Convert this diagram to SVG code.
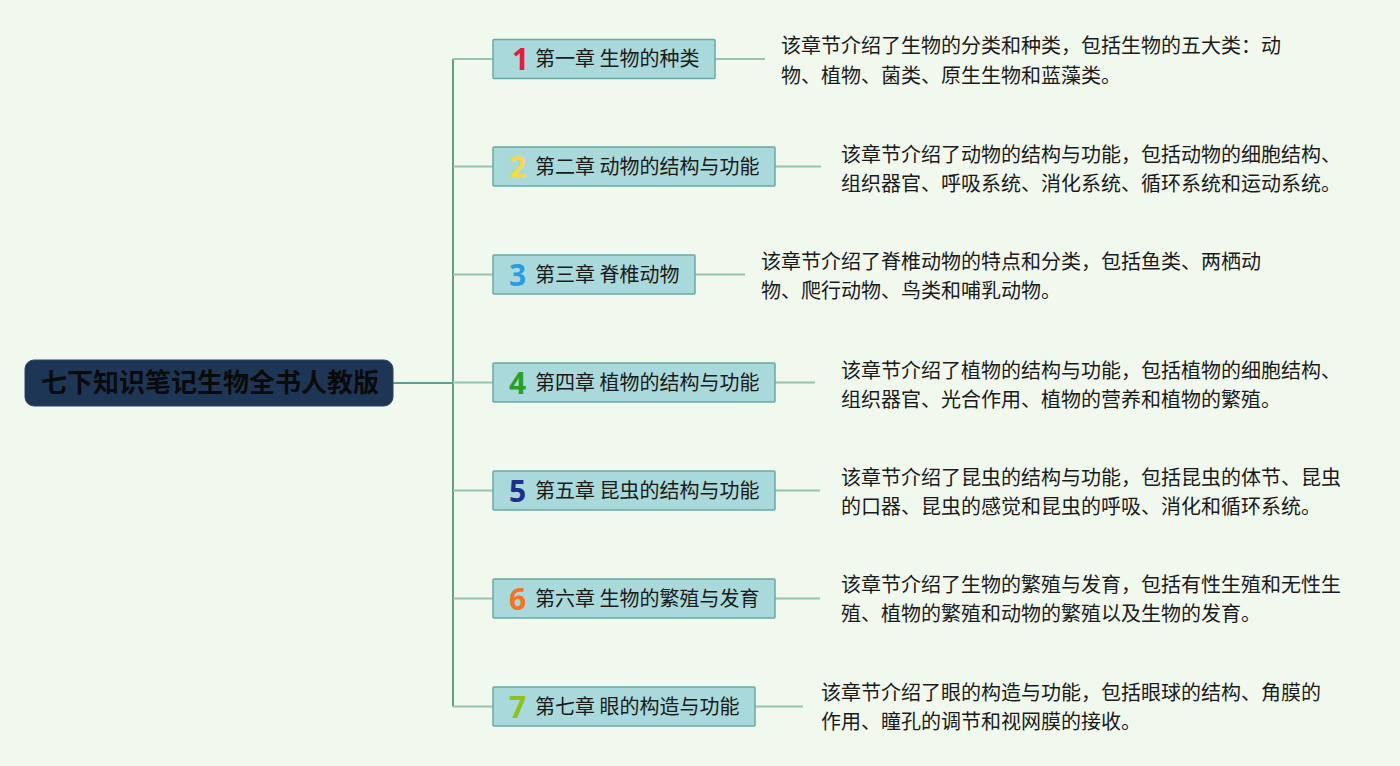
<svg xmlns="http://www.w3.org/2000/svg" width="1400" height="766" viewBox="0 0 1400 766">
<style>
.bg{fill:#f1f9ef}
.trunk{stroke:#5f9e8a;stroke-width:2;fill:none}
.br{stroke:#94c4b2;stroke-width:2;fill:none}
.node{fill:#a9d9da;stroke:#6aa9a2;stroke-width:1.5}
.lbl{font-family:"Noto Sans CJK SC","Noto Sans",sans-serif;font-size:20px;fill:#1a1a1a}
.num{font-family:"Noto Sans","Liberation Sans",sans-serif;font-size:30px;font-weight:bold}
.desc{font-family:"Noto Sans CJK SC","Noto Sans",sans-serif;font-size:20px;fill:#1a1a1a}
.root{fill:#1e3656;stroke:#2a4466;stroke-width:1}
.rootT{font-family:"Noto Sans CJK SC","Noto Sans",sans-serif;font-size:26px;font-weight:bold;fill:#0a0a0a}
</style>
<rect class="bg" x="0" y="0" width="1400" height="766"/>
<g id="connectors">
<path class="trunk" d="M393 383 H453 M453 59 V706.5"/>
<path class="br" d="M453 59 H493 M453 166.5 H493 M453 274.5 H493 M453 382.5 H493 M453 490.5 H493 M453 598.5 H493 M453 706.5 H493"/>
<path class="br" d="M715 59 H765 M775 166.5 H821 M695 274.5 H745 M775 382.5 H815 M775 490.5 H820 M775 598.5 H820 M755 706.5 H803"/>
</g>
<g id="root">
<rect class="root" x="25" y="360" width="368" height="46" rx="9"/>
<text class="rootT" x="210" y="392" text-anchor="middle">七下知识笔记生物全书人教版</text>
</g>
<g id="ch1">
<rect class="node" x="493" y="39.5" width="222" height="39" rx="1"/>
<text class="num" x="512" y="70" fill="#e0203c">1</text>
<text class="lbl" x="535" y="66">第一章 生物的种类</text>
</g>
<g id="ch2">
<rect class="node" x="493" y="147" width="282" height="39" rx="1"/>
<text class="num" x="509" y="177.5" fill="#f5d84a">2</text>
<text class="lbl" x="535" y="174">第二章 动物的结构与功能</text>
</g>
<g id="ch3">
<rect class="node" x="493" y="255" width="202" height="39" rx="1"/>
<text class="num" x="509" y="285.5" fill="#2a9de0">3</text>
<text class="lbl" x="535" y="282">第三章 脊椎动物</text>
</g>
<g id="ch4">
<rect class="node" x="493" y="363" width="282" height="39" rx="1"/>
<text class="num" x="509" y="393.5" fill="#24a12c">4</text>
<text class="lbl" x="535" y="390">第四章 植物的结构与功能</text>
</g>
<g id="ch5">
<rect class="node" x="493" y="471" width="282" height="39" rx="1"/>
<text class="num" x="509" y="501.5" fill="#1f2f8c">5</text>
<text class="lbl" x="535" y="498">第五章 昆虫的结构与功能</text>
</g>
<g id="ch6">
<rect class="node" x="493" y="579" width="282" height="39" rx="1"/>
<text class="num" x="509" y="609.5" fill="#f27322">6</text>
<text class="lbl" x="535" y="606">第六章 生物的繁殖与发育</text>
</g>
<g id="ch7">
<rect class="node" x="493" y="687" width="262" height="39" rx="1"/>
<text class="num" x="509" y="717.5" fill="#8cc21c">7</text>
<text class="lbl" x="535" y="714">第七章 眼的构造与功能</text>
</g>
<g id="desc1">
<text class="desc" x="781" y="53">该章节介绍了生物的分类和种类，包括生物的五大类：动</text>
<text class="desc" x="781" y="83">物、植物、菌类、原生生物和蓝藻类。</text>
</g>
<g id="desc2">
<text class="desc" x="841" y="162">该章节介绍了动物的结构与功能，包括动物的细胞结构、</text>
<text class="desc" x="841" y="191">组织器官、呼吸系统、消化系统、循环系统和运动系统。</text>
</g>
<g id="desc3">
<text class="desc" x="761" y="269">该章节介绍了脊椎动物的特点和分类，包括鱼类、两栖动</text>
<text class="desc" x="761" y="298">物、爬行动物、鸟类和哺乳动物。</text>
</g>
<g id="desc4">
<text class="desc" x="841" y="378">该章节介绍了植物的结构与功能，包括植物的细胞结构、</text>
<text class="desc" x="841" y="407">组织器官、光合作用、植物的营养和植物的繁殖。</text>
</g>
<g id="desc5">
<text class="desc" x="841" y="485">该章节介绍了昆虫的结构与功能，包括昆虫的体节、昆虫</text>
<text class="desc" x="841" y="514">的口器、昆虫的感觉和昆虫的呼吸、消化和循环系统。</text>
</g>
<g id="desc6">
<text class="desc" x="841" y="592">该章节介绍了生物的繁殖与发育，包括有性生殖和无性生</text>
<text class="desc" x="841" y="621">殖、植物的繁殖和动物的繁殖以及生物的发育。</text>
</g>
<g id="desc7">
<text class="desc" x="821" y="700">该章节介绍了眼的构造与功能，包括眼球的结构、角膜的</text>
<text class="desc" x="821" y="729">作用、瞳孔的调节和视网膜的接收。</text>
</g>
</svg>
